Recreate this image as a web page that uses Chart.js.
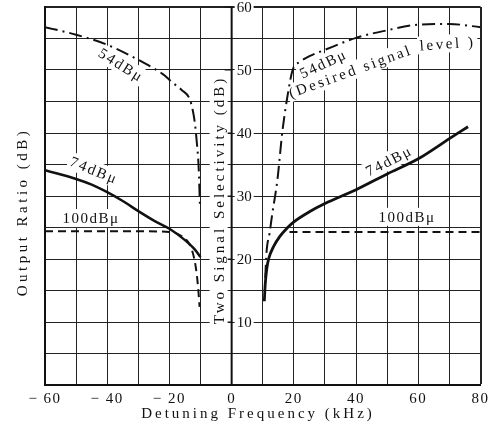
<!DOCTYPE html>
<html>
<head>
<meta charset="utf-8">
<script src="https://cdn.jsdelivr.net/npm/chart.js@4/dist/chart.umd.min.js"></script>
<style>
  html, body { margin: 0; padding: 0; background: #fff; }
  #wrap { width: 493px; height: 434px; }
</style>
</head>
<body>
<div id="wrap"><canvas id="chart"></canvas></div>
<script>
// tick labels
const xTickLabels = [-60, -40, -20, 0, 20, 40, 60, 80];
const yTickLabels = [10, 20, 30, 40, 50, 60];

// left side (negative detuning), output ratio
const left54Freq = [-60, -50, -40, -30, -22, -19, -16, -13.5, -12.5, -11.8, -11.2, -10.6, -10.2];
const left54Db   = [56.8, 55.6, 54.0, 51.6, 49.3, 48.0, 46.8, 45.4, 43.6, 41.5, 38.5, 34.5, 28.5];
const left74Freq = [-60, -50, -45, -40, -35, -30, -25, -20, -15, -12, -10];
const left74Db   = [34.1, 32.7, 31.8, 30.6, 29.2, 27.6, 26.1, 24.8, 23.0, 21.6, 20.3];
const left100Freq = [-60, -50, -40, -30, -20, -16, -13.5, -12, -11.2, -10.7, -10.3];
const left100Db   = [24.4, 24.4, 24.4, 24.4, 24.3, 23.6, 22.3, 20.0, 17.5, 15.0, 12.4];

// right side (positive detuning), two signal selectivity
const right54Freq = [10.8, 11.2, 12.2, 13.1, 14.7, 16.3, 18, 19.6, 22, 25, 30, 40, 50, 60, 70, 80];
const right54Db   = [17, 21, 24.1, 27.3, 32.5, 40.2, 46, 50, 51.3, 52.2, 53.2, 55.1, 56.3, 57.2, 57.3, 56.8];
const right74Freq = [10.5, 10.8, 11.3, 12, 13.5, 15.5, 18, 20, 25, 30, 40, 50, 60, 70, 76];
const right74Db   = [13.3, 16, 18.5, 20.2, 22, 23.6, 25, 25.9, 27.5, 28.8, 31, 33.5, 35.9, 39.1, 41];
const right100Freq = [18.6, 30, 40, 50, 60, 70, 80];
const right100Db   = [24.3, 24.3, 24.3, 24.3, 24.3, 24.3, 24.3];

const ink = '#111';
const serif = "'Liberation Serif', 'DejaVu Serif', serif";

// curve captions, placed in data coordinates (kHz, dB)
const curveLabels = [
  { text: '54dBμ', f: -35.5, db: 50.8, angle: 32, spacing: 2 },
  { text: '74dBμ', f: -44.2, db: 34.1, angle: 22, spacing: 2 },
  { text: '100dBμ', f: -45.2, db: 26.5, angle: 0, spacing: 1.5 },
  { text: '54dBμ', f: 29.5, db: 51.0, angle: -25, spacing: 2 },
  { text: '(Desired signal', f: 38.2, db: 49.8, angle: -20, spacing: 2.6 },
  { text: 'level )', f: 69.4, db: 54.2, angle: -4, spacing: 2.6 },
  { text: '74dBμ', f: 50.6, db: 35.6, angle: -27, spacing: 2 },
  { text: '100dBμ', f: 56.4, db: 26.7, angle: 0, spacing: 1.5 }
];

const pts = (xs, ys) => xs.map((v, i) => ({ x: v, y: ys[i] }));

const curve = (data, width, dash) => ({
  data,
  showLine: true,
  borderColor: ink,
  borderWidth: width,
  borderDash: dash,
  pointRadius: 0,
  cubicInterpolationMode: 'monotone',
  fill: false
});

const dashDot = [13, 5, 2, 5];
const dashed = [8, 5];

// white-backed text, rotated about its centre
const boxedText = (ctx, text, px, py, angleDeg, spacing) => {
  ctx.save();
  ctx.translate(px, py);
  ctx.rotate(angleDeg * Math.PI / 180);
  ctx.letterSpacing = spacing + 'px';
  const w = ctx.measureText(text).width;
  ctx.fillStyle = '#fff';
  ctx.fillRect(-w / 2 - 2, -9, w + 4, 18);
  ctx.fillStyle = ink;
  ctx.textAlign = 'center';
  ctx.textBaseline = 'middle';
  ctx.fillText(text, 0, 1);
  ctx.restore();
};

const inkPlugin = {
  id: 'ink',
  beforeDraw(chart) {
    chart.ctx.letterSpacing = '1.5px';
  },
  beforeDatasetsDraw(chart) {
    const { ctx, chartArea: a, scales: { x, y } } = chart;
    const x0 = x.getPixelForValue(0);
    ctx.save();
    ctx.font = '15px ' + serif;

    // centre axis: tick marks and labels on the right
    ctx.strokeStyle = ink;
    ctx.lineWidth = 1;
    yTickLabels.forEach(v => {
      const py = y.getPixelForValue(v);
      ctx.beginPath();
      ctx.moveTo(x0 - 7, py);
      ctx.lineTo(x0, py);
      ctx.stroke();
      ctx.letterSpacing = '0px';
      const w = ctx.measureText(String(v)).width;
      ctx.fillStyle = '#fff';
      ctx.fillRect(x0 + 3, py - 8, w + 4, 16);
      ctx.fillStyle = ink;
      ctx.textAlign = 'left';
      ctx.textBaseline = 'middle';
      ctx.fillText(String(v), x0 + 5, py + 1);
    });

    // axis titles
    boxedText(ctx, 'Two Signal Selectivity (dB)', x0 - 13, 200, -90, 3);
    boxedText(ctx, 'Output Ratio (dB)', 22, 212, -90, 3.5);
    ctx.save();
    ctx.letterSpacing = '3px';
    ctx.fillStyle = ink;
    ctx.textAlign = 'center';
    ctx.textBaseline = 'middle';
    ctx.fillText('Detuning Frequency (kHz)', 258, 414);
    ctx.restore();

    // curve captions
    curveLabels.forEach(l => {
      boxedText(ctx, l.text, x.getPixelForValue(l.f), y.getPixelForValue(l.db), l.angle, l.spacing);
    });

    // centre axis line
    ctx.lineWidth = 2;
    ctx.beginPath();
    ctx.moveTo(x0, a.top);
    ctx.lineTo(x0, a.bottom);
    ctx.stroke();
    ctx.restore();
  }
};

new Chart(document.getElementById('chart'), {
  type: 'scatter',
  data: {
    datasets: [
      curve(pts(left54Freq, left54Db), 2, dashDot),
      curve(pts(left74Freq, left74Db), 2.5, []),
      curve(pts(left100Freq, left100Db), 2, dashed),
      curve(pts(right54Freq, right54Db), 2, dashDot),
      curve(pts(right74Freq, right74Db), 2.8, []),
      curve(pts(right100Freq, right100Db), 2, dashed)
    ]
  },
  options: {
    responsive: true,
    maintainAspectRatio: false,
    animation: false,
    layout: { padding: { left: 45, right: 11, top: 7, bottom: 21 } },
    plugins: { legend: { display: false }, tooltip: { enabled: false } },
    scales: {
      x: {
        type: 'linear',
        min: -60,
        max: 80,
        grid: {
          color: '#222',
          lineWidth: ctx => (ctx.tick && ctx.tick.value === 80 ? 2 : 1),
          drawTicks: false
        },
        border: { color: ink, width: 2 },
        ticks: {
          stepSize: 10,
          autoSkip: false,
          maxRotation: 0,
          padding: 5,
          color: ink,
          font: { family: serif, size: 15 },
          callback: v => xTickLabels.includes(v) ? (v < 0 ? '− ' + Math.abs(v) : String(v)) : ''
        }
      },
      y: {
        min: 0,
        max: 60,
        grid: {
          color: '#222',
          lineWidth: ctx => (ctx.tick && ctx.tick.value === 60 ? 2 : 1),
          drawTicks: false
        },
        border: { color: ink, width: 2 },
        ticks: { stepSize: 5, display: false }
      }
    }
  },
  plugins: [inkPlugin]
});
</script>
</body>
</html>
